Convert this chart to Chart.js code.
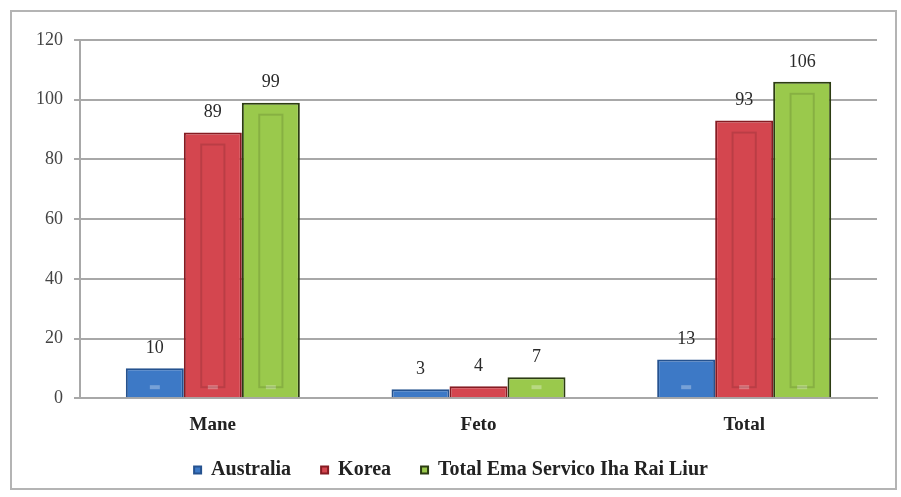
<!DOCTYPE html>
<html>
<head>
<meta charset="utf-8">
<script src="https://cdn.jsdelivr.net/npm/chart.js@4"></script>
<style>
  html, body { margin: 0; padding: 0; background: #fff; }
  #frame {
    position: absolute; left: 10px; top: 10px;
    width: 883px; height: 476px;
    border: 2px solid #b4b4b4;
    background: #fff;
  }
  canvas { display: block; }
</style>
</head>
<body>
<div id="frame"><canvas id="chart" width="883" height="476"></canvas></div>
<script>
// categorias no valor sira
const categories = ["Mane", "Feto", "Total"];
const australia = [10, 3, 13];
const korea = [89, 4, 93];
const totalEma = [99, 7, 106];
const yTicks = [0, 20, 40, 60, 80, 100, 120];

const serif = "'Liberation Serif', 'Times New Roman', serif";

// label valor iha leten bar ida-idak
const valueLabels = {
    id: "valueLabels",
    afterDatasetsDraw(chart) {
        const ctx = chart.ctx;
        ctx.save();
        ctx.font = "18px " + serif;
        ctx.fillStyle = "#2a2a2a";
        ctx.textAlign = "center";
        ctx.textBaseline = "middle";
        chart.data.datasets.forEach((ds, i) => {
            chart.getDatasetMeta(i).data.forEach((bar, j) => {
                ctx.fillText(ds.data[j], bar.x, bar.y - 20);
            });
        });
        ctx.restore();
    }
};

// efeitu bevel simples (hanesan Excel)
const bevel = {
    id: "bevel",
    afterDatasetsDraw(chart) {
        const ctx = chart.ctx;
        ctx.save();
        chart.data.datasets.forEach((ds, i) => {
            chart.getDatasetMeta(i).data.forEach(bar => {
                const w = bar.width, h = bar.base - bar.y;
                if (h < 12) return;
                const left = bar.x - w / 2;
                ctx.fillStyle = "rgba(255,255,255,0.3)";
                ctx.fillRect(bar.x - 5, bar.base - 12, 10, 4);
                if (h < 60) return;
                ctx.strokeStyle = "rgba(0,0,0,0.12)";
                ctx.lineWidth = 2;
                ctx.strokeRect(left + w * 0.3, bar.y + 12, w * 0.4, h - 22);
            });
        });
        ctx.restore();
    }
};

// eixu x la ko'a label sira (loos area clip)
const unclipX = {
    id: "unclipX",
    afterLayout(chart) {
        chart.scales.x.bottom = chart.height;
    }
};

new Chart(document.getElementById("chart"), {
    type: "bar",
    data: {
        labels: categories,
        datasets: [
            { label: "Australia", data: australia, backgroundColor: "#3d79c6", borderColor: "#25528f", borderWidth: 2 },
            { label: "Korea", data: korea, backgroundColor: "#d4464f", borderColor: "#861b22", borderWidth: 2 },
            { label: "Total Ema Servico Iha Rai Liur", data: totalEma, backgroundColor: "#9ac94c", borderColor: "#2c3c12", borderWidth: 2 }
        ]
    },
    options: {
        responsive: false,
        animation: false,
        layout: { padding: { left: 13, right: 18, top: 28, bottom: -2 } },
        datasets: { bar: { barPercentage: 1, categoryPercentage: 0.655 } },
        plugins: {
            legend: {
                position: "bottom",
                labels: {
                    font: { family: serif, size: 20, weight: "bold" },
                    color: "#222",
                    boxWidth: 7,
                    boxHeight: 7,
                    padding: 30
                }
            },
            tooltip: { enabled: false }
        },
        scales: {
            x: {
                grid: { display: false },
                border: { color: "#a8a8a8", width: 2 },
                ticks: { font: { family: serif, size: 19, weight: "bold" }, color: "#222", padding: 7 },
                afterFit(scale) { scale.height -= 13; }
            },
            y: {
                min: 0,
                max: 120,
                afterBuildTicks(axis) { axis.ticks = yTicks.map(v => ({ value: v })); },
                grid: { color: "#a8a8a8", lineWidth: 2, tickLength: 6 },
                border: { color: "#a8a8a8", width: 2 },
                ticks: { font: { family: serif, size: 18 }, color: "#444", padding: 11 }
            }
        }
    },
    plugins: [bevel, valueLabels, unclipX]
});
</script>
</body>
</html>
